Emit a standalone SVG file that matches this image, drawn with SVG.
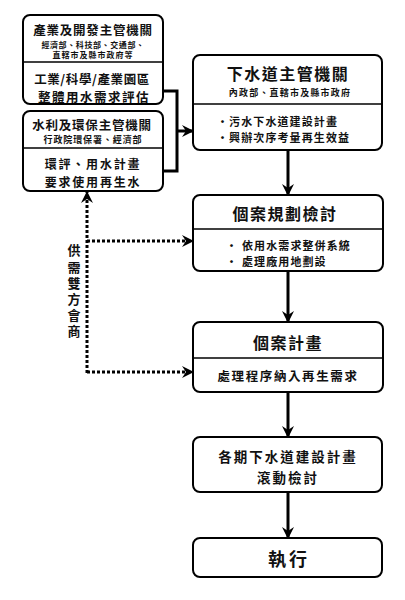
<svg xmlns="http://www.w3.org/2000/svg" width="405" height="600" viewBox="0 0 405 600">
<defs>
<marker id="ah" viewBox="0 0 12 12" refX="11" refY="6" markerWidth="12" markerHeight="12" markerUnits="userSpaceOnUse" orient="auto">
<path d="M0,0 L12,6 L0,12 L4,6 z" fill="#000"/>
</marker>
<style>
rect.box{fill:#fff;stroke:#000;stroke-width:2}
line.div{stroke:#000;stroke-width:1.5}
text{font-family:"Noto Sans CJK TC","Noto Sans CJK SC",sans-serif;font-weight:700;fill:#111;dominant-baseline:central}
.c{text-anchor:middle}
.t13{font-size:12.5px;letter-spacing:0.8px}
.t16{font-size:16px;letter-spacing:1.5px}
.s9{font-size:8px;letter-spacing:0.6px}
.s10{font-size:9px;letter-spacing:1.2px}
.b11{font-size:11px;letter-spacing:1.1px}
.solid{stroke:#000;stroke-width:3;fill:none}
.dot{stroke:#000;stroke-width:3;fill:none;stroke-dasharray:3 2}
</style>
</defs>
<rect width="405" height="600" fill="#fff"/>
<g id="connectors">
<polyline class="solid" points="157,91 177,91 177,171 157,171"/>
<line class="solid" x1="177" y1="131" x2="193" y2="131" marker-end="url(#ah)"/>
<line class="solid" x1="288" y1="150" x2="288" y2="195" marker-end="url(#ah)"/>
<line class="solid" x1="288" y1="271" x2="288" y2="322" marker-end="url(#ah)"/>
<line class="solid" x1="288" y1="392" x2="288" y2="437" marker-end="url(#ah)"/>
<line class="solid" x1="288" y1="492" x2="288" y2="538" marker-end="url(#ah)"/>
<line class="dot" x1="87" y1="373" x2="87" y2="192" marker-end="url(#ah)"/>
<line class="dot" x1="87" y1="241" x2="193" y2="241" marker-end="url(#ah)"/>
<line class="dot" x1="87" y1="372" x2="193" y2="372" marker-end="url(#ah)"/>
<text x="74" y="244" style="writing-mode:vertical-rl;font-size:13px;letter-spacing:3.2px">供需雙方會商</text>
</g>
<g id="industry">
<rect class="box" x="23" y="15" width="140" height="89" rx="7"/>
<line class="div" x1="23" y1="62" x2="163" y2="62"/>
<text class="c t13" x="93" y="29">產業及開發主管機關</text>
<text class="c s9"><tspan x="93" y="43.5">經濟部、科技部、交通部、</tspan><tspan x="93" y="54" style="letter-spacing:1px">直轄市及縣市政府等</tspan></text>
<text class="c t13"><tspan x="92" y="78" style="letter-spacing:0.6px">工業/科學/產業園區</tspan><tspan x="94" y="96" style="letter-spacing:1.5px">整體用水需求評估</tspan></text>
</g>
<g id="water">
<rect class="box" x="23" y="111" width="140" height="80" rx="7"/>
<line class="div" x1="23" y1="148" x2="163" y2="148"/>
<text class="c t13" x="92" y="124">水利及環保主管機關</text>
<text class="c s10" x="93" y="139" style="letter-spacing:0.9px">行政院環保署、經濟部</text>
<text class="c" style="font-size:12px;letter-spacing:1.8px"><tspan x="93" y="163">環評、用水計畫</tspan><tspan x="93" y="180.5">要求使用再生水</tspan></text>
</g>
<g id="sewer">
<rect class="box" x="193" y="55" width="189" height="95" rx="7"/>
<line class="div" x1="193" y1="104" x2="382" y2="104"/>
<text class="c t16" x="288" y="73">下水道主管機關</text>
<text class="c s10" x="290" y="92">內政部、直轄市及縣市政府</text>
<text class="b11"><tspan x="217" y="121">・污水下水道建設計畫</tspan><tspan x="217" y="137">・興辦次序考量再生效益</tspan></text>
</g>
<g id="review">
<rect class="box" x="193" y="195" width="190" height="76" rx="7"/>
<line class="div" x1="193" y1="229" x2="383" y2="229"/>
<text class="c t16" x="285" y="213">個案規劃檢討</text>
<text class="b11"><tspan x="226" y="245">・</tspan><tspan x="242" y="245">依用水需求整併系統</tspan><tspan x="226" y="261">・</tspan><tspan x="242" y="261">處理廠用地劃設</tspan></text>
</g>
<g id="plan">
<rect class="box" x="193" y="322" width="190" height="70" rx="7"/>
<line class="div" x1="193" y1="358" x2="383" y2="358"/>
<text class="c t16" x="288" y="342">個案計畫</text>
<text class="c" x="288" y="375" style="font-size:12.5px;letter-spacing:1.6px">處理程序納入再生需求</text>
</g>
<g id="rolling">
<rect class="box" x="193" y="437" width="189" height="55" rx="7"/>
<text class="c" style="font-size:13.5px;letter-spacing:2px"><tspan x="288" y="456">各期下水道建設計畫</tspan><tspan x="288" y="477">滾動檢討</tspan></text>
</g>
<g id="execute">
<rect class="box" x="193" y="538" width="189" height="39" rx="7"/>
<text class="c" x="289" y="558" style="font-size:18px;letter-spacing:3px">執行</text>
</g>
</svg>
